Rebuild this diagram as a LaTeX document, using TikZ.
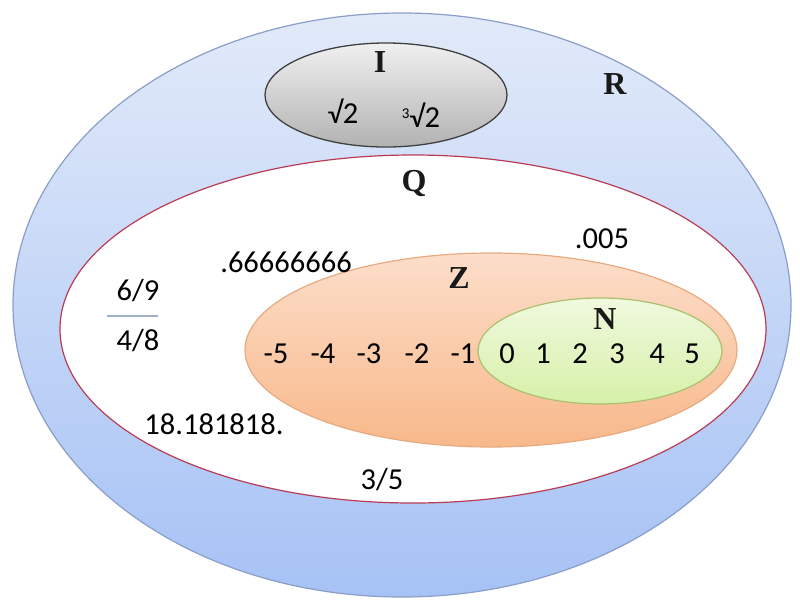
\documentclass[tikz,border=0pt]{standalone}
\usepackage{fontspec}
\setmainfont{Carlito}
\newfontfamily\lblfont{Liberation Serif}
\begin{document}
\begin{tikzpicture}[x=1pt,y=-1pt,
  num/.style={font=\fontsize{30.5}{30.5}\selectfont, inner sep=0pt, text=black},
  setlbl/.style={font=\lblfont\bfseries\fontsize{32}{32}\selectfont, inner sep=0pt, text=black!90}]
\useasboundingbox (0,0) rectangle (800,600);
\fill[white] (0,0) rectangle (800,600);
% outer R
\path[draw={rgb,255:red,138;green,158;blue,200}, line width=1.2pt, top color={rgb,255:red,226;green,234;blue,249}, bottom color={rgb,255:red,166;green,194;blue,245}]
  (402,305) ellipse [x radius=389pt, y radius=292pt];
% I
\path[draw=black!75, line width=1.3pt, top color={rgb,255:red,240;green,240;blue,240}, bottom color={rgb,255:red,178;green,178;blue,178}]
  (386,95) ellipse [x radius=121pt, y radius=52pt];
% Q
\path[draw={rgb,255:red,185;green,60;blue,85}, line width=1.2pt, fill=white]
  (413,329) ellipse [x radius=353pt, y radius=174pt];
% Z
\path[draw={rgb,255:red,232;green,170;blue,128}, line width=1.2pt, top color={rgb,255:red,252;green,222;blue,202}, bottom color={rgb,255:red,248;green,184;blue,138}]
  (491,350) ellipse [x radius=246pt, y radius=97pt];
% N
\path[draw={rgb,255:red,170;green,192;blue,110}, line width=1.2pt, top color={rgb,255:red,240;green,249;blue,222}, bottom color={rgb,255:red,214;green,240;blue,168}]
  (600,351) ellipse [x radius=122pt, y radius=53pt];
% labels
\node[setlbl] (lI) at (380,62) {I};
\node[setlbl] (lR) at (615,84) {R};
\node[setlbl] (lQ) at (414,183) {Q};
\node[setlbl] (lZ) at (459,278) {Z};
\node[setlbl] (lN) at (605,319) {N};
% I contents
\node[num] (s2) at (343,111) {√2};
\node[num] (c2) at (421,115) {{\fontsize{15}{15}\selectfont\raisebox{9pt}{3}}√2};
% Q contents
\node[num] (q1) at (602,239) {.005};
\node[num] (q2) at (286,262) {.66666666};
\node[num] (f1) at (138,291) {6/9};
\coordinate (fl) at (107,316);
\coordinate (fr) at (158,316);
\draw[line width=1.5pt, color={rgb,255:red,160;green,176;blue,200}] (fl) -- (fr);
\node[num] (f2) at (138,341) {4/8};
\node[num] (q3) at (214,424) {18.181818.};
\node[num] (q4) at (382,480) {3/5};
% integers
\node[num] (m5) at (276,354) {-5};
\node[num] (m4) at (323,354) {-4};
\node[num] (m3) at (369,354) {-3};
\node[num] (m2) at (417,354) {-2};
\node[num] (m1) at (463,354) {-1};
\node[num] (n0) at (507,354) {0};
\node[num] (n1) at (543,354) {1};
\node[num] (n2) at (580,354) {2};
\node[num] (n3) at (617,354) {3};
\node[num] (n4) at (657,354) {4};
\node[num] (n5) at (692,354) {5};
\end{tikzpicture}
\end{document}
